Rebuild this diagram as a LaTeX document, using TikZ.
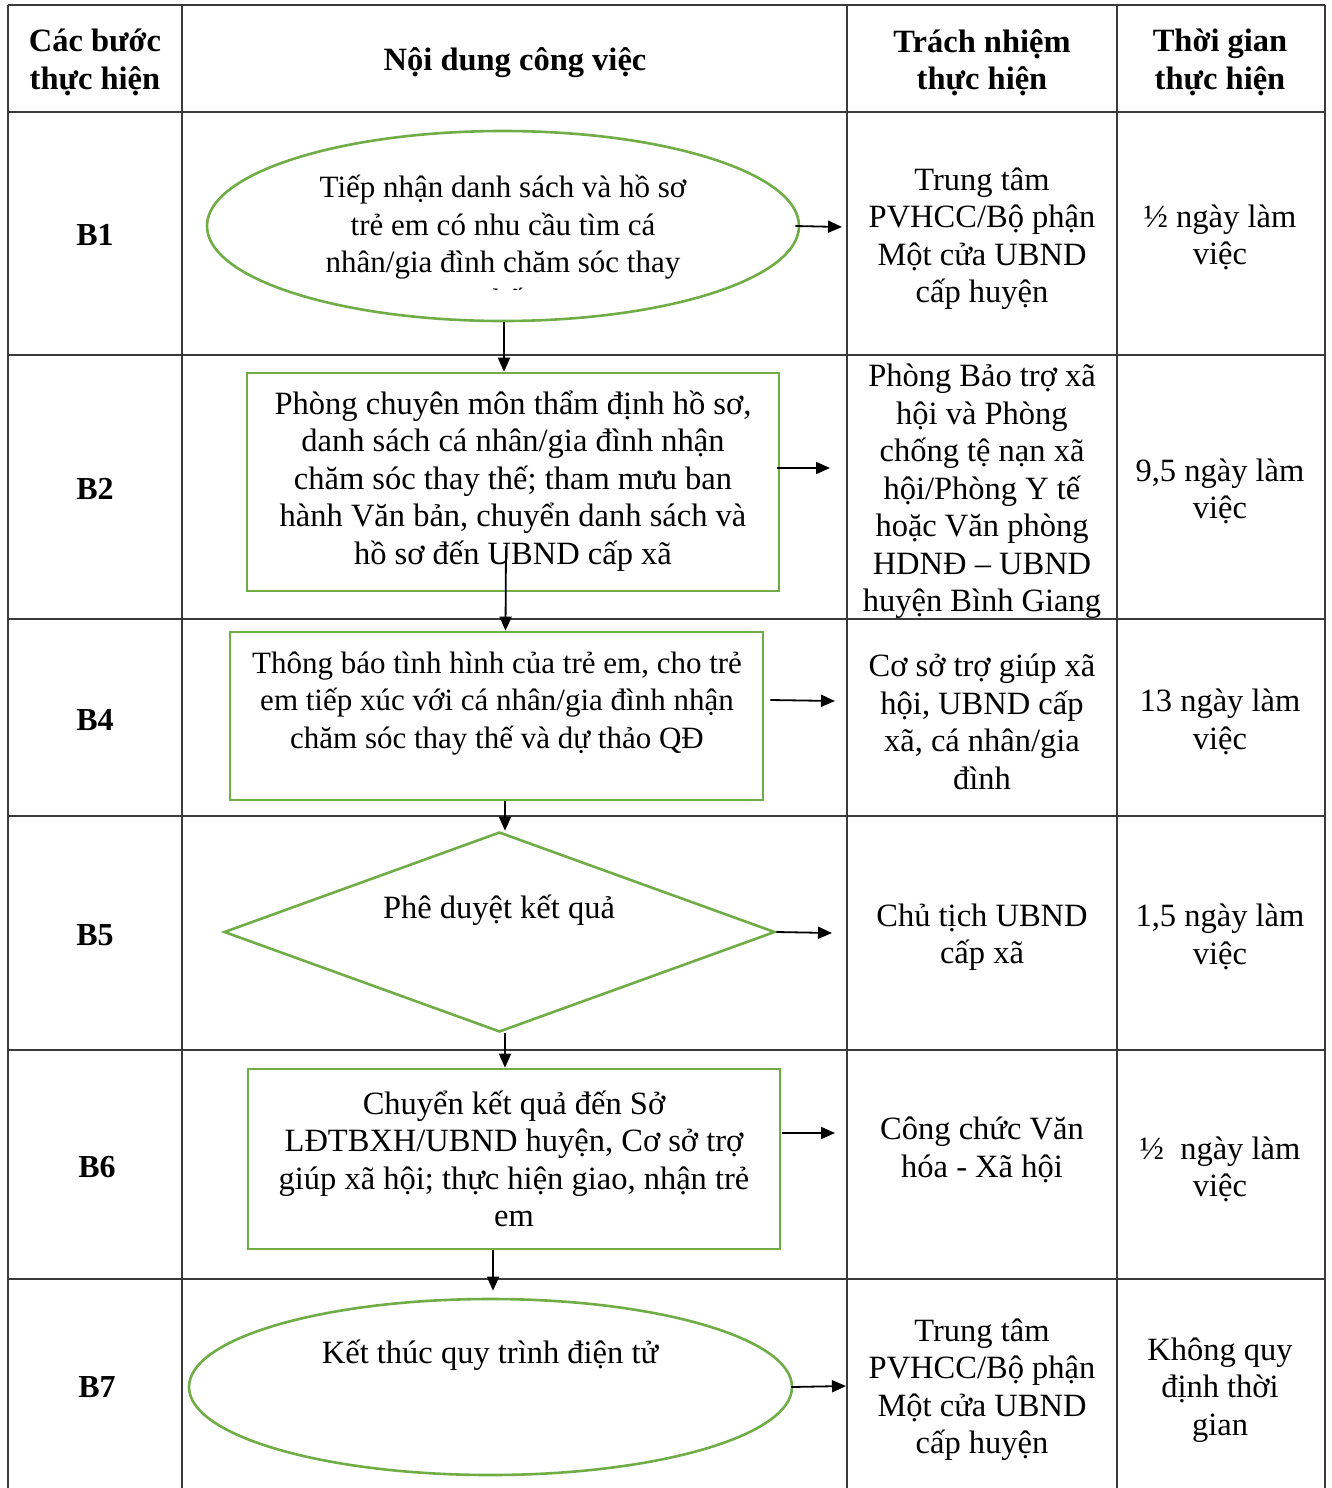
\documentclass[tikz,border=0pt]{standalone}
\usepackage{fontspec}
\setmainfont{Liberation Serif}
\usetikzlibrary{shapes.geometric,arrows.meta}
\definecolor{shpgreen}{HTML}{70AD47}
\definecolor{tblgray}{HTML}{3A3A3A}
\begin{document}
\begin{tikzpicture}[x=1pt,y=-1pt,
  tbl/.style={draw=tblgray,line width=1.6pt},
  shp/.style={draw=shpgreen,line width=2.6pt,inner sep=0pt},
  arr/.style={draw=black,line width=1.8pt,-{Triangle[length=14pt,width=12pt]}},
  txt/.style={font=\fontsize{32.5}{37.5}\selectfont,align=center,inner sep=0pt,yshift=-3pt},
  smalltxt/.style={txt,font=\fontsize{31}{37.5}\selectfont},
  hdr/.style={txt,font=\fontsize{32.5}{37.5}\selectfont\bfseries},
  lbl/.style={font=\fontsize{32}{37.5}\selectfont\bfseries,inner sep=0pt,yshift=-1pt}]
\useasboundingbox[fill=white] (0,0) rectangle (1331,1488);
% table grid
\draw[tbl] (8,5) -- (1325,5);
\draw[tbl,line width=2.6pt] (8,112) -- (1325,112);
\foreach \yy in {355,619,816,1050,1279} \draw[tbl] (8,\yy) -- (1325,\yy);
\foreach \xx in {8,182,847,1117,1325} \draw[tbl] (\xx,5) -- (\xx,1488);
% header
\node[hdr] (h1) at (95,59.5) {Các bước\\thực hiện};
\node[hdr] (h2) at (515,60) {Nội dung công việc};
\node[hdr] (h3) at (982,59.5) {Trách nhiệm\\thực hiện};
\node[hdr] (h4) at (1220,59.5) {Thời gian\\thực hiện};
% step labels
\node[lbl] (l1) at (95,234) {B1};
\node[lbl] (l2) at (95,488) {B2};
\node[lbl] (l4) at (95,719) {B4};
\node[lbl] (l5) at (95,934) {B5};
\node[lbl] (l6) at (97,1166) {B6};
\node[lbl] (l7) at (97,1386) {B7};
% shapes
\node[shp,ellipse,minimum width=592,minimum height=190] (b1) at (503,226) {};
\begin{scope}
\clip (210,140) rectangle (800,289);
\node[smalltxt] (t1) at (503,240) {Tiếp nhận danh sách và hồ sơ\\trẻ em có nhu cầu tìm cá\\nhân/gia đình chăm sóc thay\\thế};
\end{scope}
\node[shp,rectangle,minimum width=532,minimum height=218] (b2) at (513,482) {};
\node[txt] (t2) at (513,478) {Phòng chuyên môn thẩm định hồ sơ,\\danh sách cá nhân/gia đình nhận\\chăm sóc thay thế; tham mưu ban\\hành Văn bản, chuyển danh sách và\\hồ sơ đến UBND cấp xã};
\node[shp,rectangle,minimum width=533,minimum height=168] (b4) at (496.5,716) {};
\node[smalltxt] (t4) at (497,700.5) {Thông báo tình hình của trẻ em, cho trẻ\\em tiếp xúc với cá nhân/gia đình nhận\\chăm sóc thay thế và dự thảo QĐ};
\node[shp,diamond,minimum width=551,minimum height=200] (b5) at (499.5,932) {};
\node[txt] (t5) at (499,907) {Phê duyệt kết quả};
\node[shp,rectangle,minimum width=532,minimum height=180] (b6) at (514,1159) {};
\node[txt] (t6) at (514,1156) {Chuyển kết quả đến Sở\\LĐTBXH/UBND huyện, Cơ sở trợ\\giúp xã hội; thực hiện giao, nhận trẻ\\em};
\node[shp,ellipse,minimum width=603,minimum height=176] (b7) at (490.5,1387) {};
\node[txt] (t7) at (490,1352) {Kết thúc quy trình điện tử};
% responsibility
\node[txt] (r1) at (982,235.5) {Trung tâm\\PVHCC/Bộ phận\\Một cửa UBND\\cấp huyện};
\node[txt] (r2) at (982,488.5) {Phòng Bảo trợ xã\\hội và Phòng\\chống tệ nạn xã\\hội/Phòng Y tế\\hoặc Văn phòng\\HDNĐ – UBND\\huyện Bình Giang};
\node[txt] (r4) at (982,719) {Cơ sở trợ giúp xã\\hội, UBND cấp\\xã, cá nhân/gia\\đình};
\node[txt] (r5) at (982,934) {Chủ tịch UBND\\cấp xã};
\node[txt] (r6) at (982,1147) {Công chức Văn\\hóa - Xã hội};
\node[txt] (r7) at (982,1386.5) {Trung tâm\\PVHCC/Bộ phận\\Một cửa UBND\\cấp huyện};
% time
\node[txt] (s1) at (1220,234.5) {½ ngày làm\\việc};
\node[txt] (s2) at (1220,488.5) {9,5 ngày làm\\việc};
\node[txt] (s4) at (1220,719) {13 ngày làm\\việc};
\node[txt] (s5) at (1220,934) {1,5 ngày làm\\việc};
\node[txt] (s6) at (1220,1166.5) {½\ \ ngày làm\\việc};
\node[txt] (s7) at (1220,1387) {Không quy\\định thời\\gian};
% arrow ends
\coordinate (e1) at (842,227);
\coordinate (e2) at (830,468);
\coordinate (e4) at (835,701);
\coordinate (e5) at (832,933);
\coordinate (e6) at (835,1133);
\coordinate (e7) at (846,1386);
% vertical connectors
\draw[arr] ([xshift=1pt]b1.south) -- ([xshift=1pt]b1.south |- b2.north);
\draw[arr] ([xshift=-7pt,yshift=46pt]b2.south) -- ([xshift=9pt]b4.north);
\draw[arr] ([xshift=8.5pt]b4.south) -- ([xshift=5.5pt]b5.north);
\draw[arr] ([xshift=5.5pt]b5.south) -- ([xshift=-9pt]b6.north);
\draw[arr] ([xshift=-21pt]b6.south) -- ([xshift=2.5pt,yshift=7pt]b7.north);
% horizontal connectors
\draw[arr] ([xshift=-5pt]b1.east) -- (e1);
\draw[arr] ([xshift=-3pt,yshift=14pt]b2.east) -- (e2);
\draw[arr] ([xshift=6pt,yshift=16pt]b4.east) -- (e4);
\draw[arr] (b5.east) -- (e5);
\draw[arr] ([xshift=1pt,yshift=26pt]b6.east) -- (e6);
\draw[arr] ([xshift=-2pt]b7.east) -- (e7);
\end{tikzpicture}
\end{document}
